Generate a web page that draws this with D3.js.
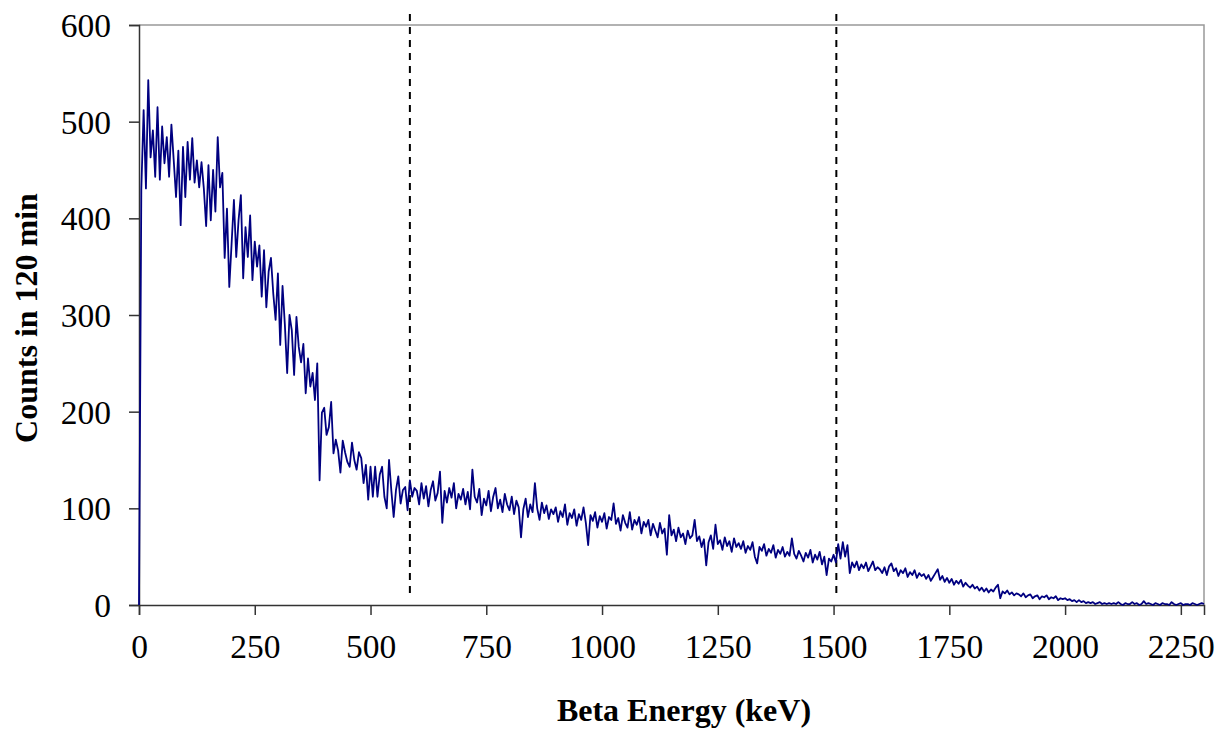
<!DOCTYPE html>
<html>
<head>
<meta charset="utf-8">
<script src="https://cdn.jsdelivr.net/npm/d3@7"></script>
<style>
  body { margin: 0; background: #fff; }
  svg text { font-family: "Liberation Serif", "Times New Roman", serif; fill: #000; }
  .tick-label { font-size: 33.5px; }
  .axis-title { font-size: 32px; font-weight: bold; }
</style>
</head>
<body>
<div id="chart"></div>
<script>
// channel width of the spectrum, keV
const binWidth = 5;

// counts per 5 keV channel (0 .. 2300 keV)
const counts = [
  // 0 - 95
  0, 430, 512, 431, 543, 463, 491, 443, 515, 440, 495, 457, 484, 443, 497, 460, 422, 470, 393, 474,
  // 100 - 195
  422, 479, 440, 483, 437, 460, 432, 458, 431, 392, 455, 398, 450, 407, 484, 432, 447, 359, 410, 329,
  // 200 - 295
  374, 419, 360, 398, 424, 338, 391, 360, 403, 336, 376, 350, 372, 319, 367, 308, 345, 359, 322, 295,
  // 300 - 395
  343, 269, 330, 290, 240, 300, 284, 238, 298, 267, 251, 270, 219, 255, 226, 240, 212, 250, 129, 199,
  // 400 - 495
  204, 176, 184, 210, 157, 171, 160, 137, 170, 158, 148, 143, 168, 150, 140, 158, 152, 126, 145, 109,
  // 500 - 595
  143, 112, 143, 112, 135, 143, 112, 100, 150, 118, 91, 119, 133, 105, 119, 122, 98, 129, 112, 121,
  // 600 - 695
  118, 104, 126, 110, 123, 102, 119, 128, 108, 116, 138, 85, 118, 106, 121, 111, 126, 100, 115, 109,
  // 700 - 795
  120, 104, 117, 99, 140, 112, 106, 120, 93, 110, 103, 118, 97, 112, 121, 100, 109, 96, 115, 104,
  // 800 - 895
  98, 112, 94, 108, 101, 70, 99, 110, 91, 104, 96, 126, 100, 88, 106, 95, 103, 89, 99, 94,
  // 900 - 995
  101, 86, 97, 91, 104, 83, 95, 90, 99, 82, 94, 88, 101, 85, 62, 93, 87, 96, 80, 92,
  // 1000 - 1095
  86, 95, 79, 91, 88, 105, 84, 90, 77, 93, 85, 80, 96, 78, 88, 83, 91, 74, 86, 81,
  // 1100 - 1195
  88, 72, 84, 77, 70, 85, 74, 79, 52, 93, 72, 78, 66, 80, 70, 74, 63, 77, 69, 72,
  // 1200 - 1295
  88, 66, 71, 60, 68, 41, 65, 72, 58, 83, 63, 67, 57, 70, 61, 66, 55, 69, 60, 64,
  // 1300 - 1395
  58, 66, 54, 61, 57, 65, 50, 43, 60, 56, 63, 51, 58, 54, 62, 49, 57, 53, 60, 50,
  // 1400 - 1495
  55, 51, 69, 53, 48, 56, 51, 45, 54, 49, 57, 44, 52, 47, 55, 42, 50, 31, 48, 45,
  // 1500 - 1595
  52, 44, 63, 48, 65, 50, 62, 33, 44, 39, 45, 36, 42, 38, 44, 35, 40, 45, 36, 39,
  // 1600 - 1695
  37, 33, 39, 31, 40, 43, 35, 38, 30, 36, 33, 38, 29, 34, 31, 36, 28, 33, 30, 32,
  // 1700 - 1795
  27, 31, 25, 29, 33, 37, 26, 30, 24, 28, 23, 27, 21, 25, 22, 26, 19, 23, 20, 18,
  // 1800 - 1895
  21, 17, 19, 15, 18, 14, 17, 13, 16, 14, 18, 21, 7, 14, 12, 15, 11, 13, 10, 12,
  // 1900 - 1995
  11, 9, 12, 8, 10, 11, 7, 9, 10, 6, 9, 8, 10, 6, 8, 7, 9, 5, 7, 6,
  // 2000 - 2095
  7, 5, 6, 4, 5, 3, 5, 3, 4, 2, 3, 2, 3, 1, 2, 3, 1, 2, 1, 2,
  // 2100 - 2195
  1, 2, 1, 3, 1, 0, 2, 1, 1, 3, 1, 2, 0, 1, 4, 1, 2, 1, 0, 2,
  // 2200 - 2300
  1, 0, 2, 1, 1, 0, 3, 1, 0, 1, 2, 0, 1, 1, 0, 2, 1, 0, 1, 2, 1
];

const xTicks = [0, 250, 500, 750, 1000, 1250, 1500, 1750, 2000, 2250];
const yTicks = [0, 100, 200, 300, 400, 500, 600];
// energy window limits (dashed lines), keV
const markers = [585, 1506];

const width = 1222;
const height = 732;
const margin = { top: 25, right: 18, bottom: 127, left: 139 };

const svg = d3.select("#chart")
  .append("svg")
  .attr("width", width)
  .attr("height", height);

const x = d3.scaleLinear()
  .domain([0, 2300])
  .range([margin.left, width - margin.right]);

const y = d3.scaleLinear()
  .domain([0, 600])
  .range([height - margin.bottom, margin.top]);

// top and right frame
svg.append("path")
  .attr("d", `M${x(0)},${y(600)}H${x(2300)}V${y(0)}`)
  .attr("fill", "none")
  .attr("stroke", "#999")
  .attr("stroke-width", 1.5);

// y axis
const yAxis = svg.append("g")
  .attr("transform", `translate(${x(0)},0)`)
  .call(d3.axisLeft(y).tickValues(yTicks).tickFormat(d3.format("d")).tickSize(10).tickPadding(18));
// x axis
const xAxis = svg.append("g")
  .attr("transform", `translate(0,${y(0)})`)
  .call(d3.axisBottom(x).tickValues(xTicks).tickFormat(d3.format("d")).tickSize(10).tickPadding(11));

[xAxis, yAxis].forEach(a => {
  a.attr("font-family", null).attr("font-size", null);
  a.select(".domain").attr("stroke", "#333").attr("stroke-width", 1.5);
  a.selectAll(".tick line").attr("stroke", "#333").attr("stroke-width", 1.5);
  a.selectAll(".tick text").attr("class", "tick-label");
});
yAxis.selectAll(".tick text").attr("dy", "0.34em");
xAxis.selectAll(".tick text").attr("dy", "0.95em");

// dashed markers
svg.selectAll(".marker")
  .data(markers)
  .enter().append("line")
  .attr("class", "marker")
  .attr("x1", d => x(d))
  .attr("x2", d => x(d))
  .attr("y1", y(600) - 11)
  .attr("y2", y(0) - 9)
  .attr("stroke", "#000")
  .attr("stroke-width", 2)
  .attr("stroke-dasharray", "7,6");

// spectrum
const line = d3.line()
  .x((d, i) => x(i * binWidth))
  .y(d => y(d));

svg.append("path")
  .datum(counts)
  .attr("d", line)
  .attr("fill", "none")
  .attr("stroke", "#000080")
  .attr("stroke-width", 1.8)
  .attr("stroke-linejoin", "round");

// axis titles
svg.append("text")
  .attr("class", "axis-title")
  .attr("x", 684)
  .attr("y", 721)
  .attr("text-anchor", "middle")
  .text("Beta Energy (keV)");

svg.append("text")
  .attr("class", "axis-title")
  .attr("transform", `translate(37,318) rotate(-90)`)
  .attr("text-anchor", "middle")
  .text("Counts in 120 min");
</script>
</body>
</html>
